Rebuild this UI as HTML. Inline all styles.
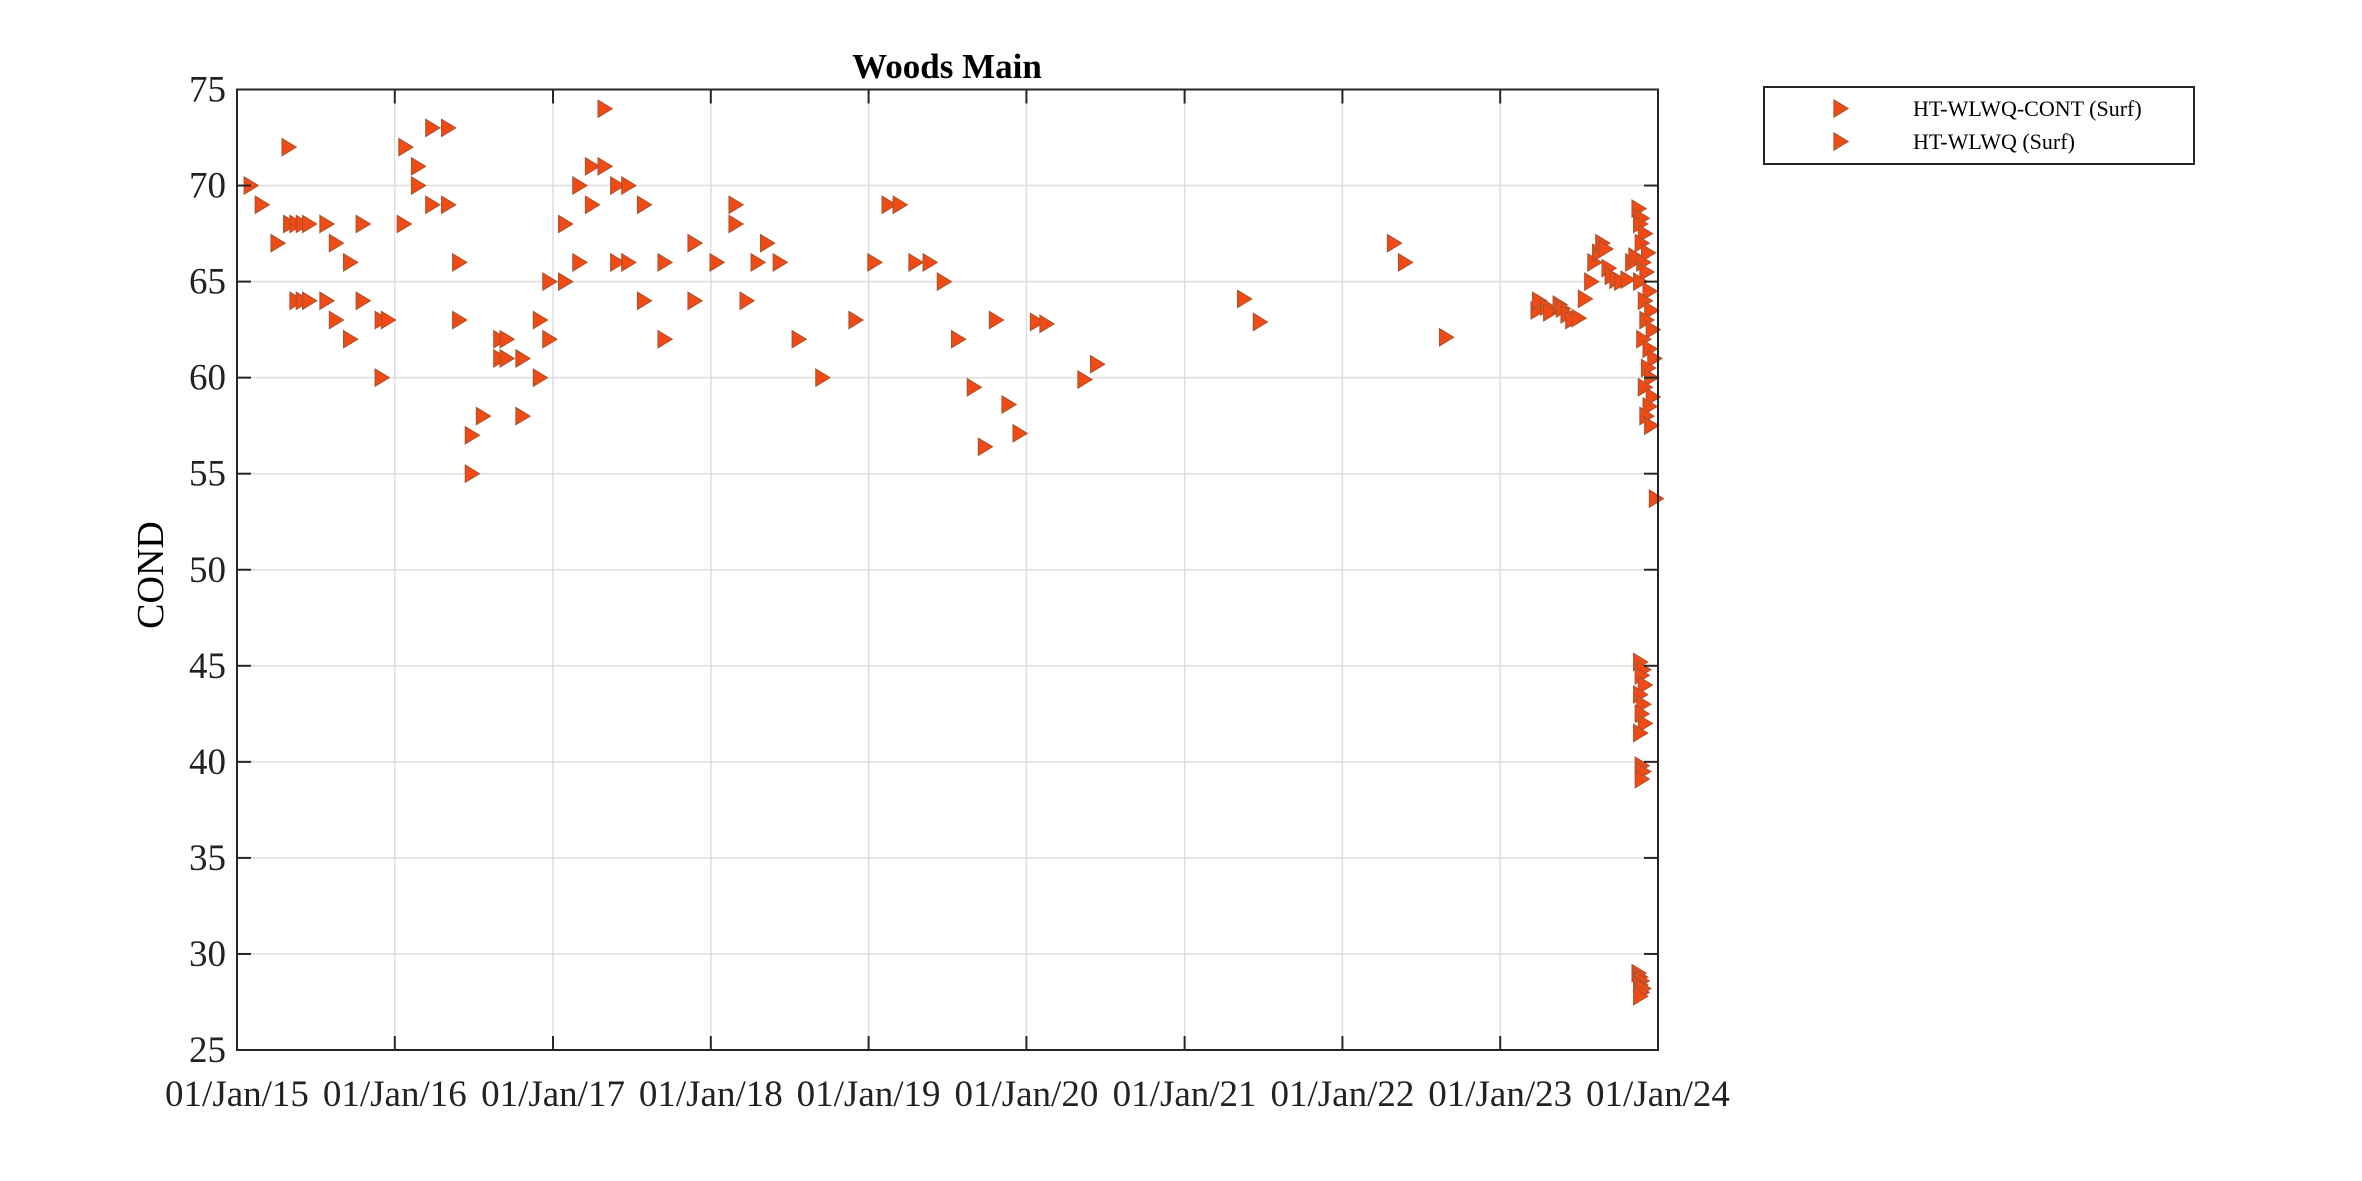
<!DOCTYPE html>
<html><head><meta charset="utf-8"><style>
html,body{margin:0;padding:0;background:#fff;}
svg{display:block;font-family:"Liberation Serif",serif;}
</style></head><body>
<svg id="chart" width="2362" height="1181" viewBox="0 0 2362 1181" xmlns="http://www.w3.org/2000/svg">
<rect width="2362" height="1181" fill="#fff"/>
<g id="grid"></g><g id="marks"></g><g id="axes"></g>
<text x="947" y="78" text-anchor="middle" font-size="35" font-weight="bold" fill="#000">Woods Main</text>
<text transform="translate(163,575) rotate(-90)" text-anchor="middle" font-size="38" fill="#000">COND</text>
<g>
<rect x="1764" y="87" width="430" height="77" fill="#fff" stroke="#262626" stroke-width="2"/>
<polygon points="1834,100 1848,108.5 1834,117" fill="#f24a14" stroke="#b0532c" stroke-width="1.2"/>
<text x="1913" y="116" font-size="22" fill="#000">HT-WLWQ-CONT (Surf)</text>
<polygon points="1834,133 1848,141.5 1834,150" fill="#f24a14" stroke="#b0532c" stroke-width="1.2"/>
<text x="1913" y="149" font-size="22" fill="#000">HT-WLWQ (Surf)</text>
</g>
</svg>
<script>
const xTickLabels = ["01/Jan/15","01/Jan/16","01/Jan/17","01/Jan/18","01/Jan/19","01/Jan/20","01/Jan/21","01/Jan/22","01/Jan/23","01/Jan/24"];
const xTickYears = [2015,2016,2017,2018,2019,2020,2021,2022,2023,2024];
const yTicks = [25,30,35,40,45,50,55,60,65,70,75];
const wlwqDates = [2015.09,2015.16,2015.26,2015.33,2015.34,2015.38,2015.42,2015.46,2015.38,2015.42,2015.46,2015.57,2015.57,2015.63,2015.63,2015.72,2015.72,2015.80,2015.80,2015.92,2015.96,2015.92,
2016.07,2016.06,2016.15,2016.15,2016.24,2016.34,2016.24,2016.34,2016.41,2016.41,2016.49,2016.49,2016.56,2016.67,2016.71,2016.67,2016.71,2016.81,2016.81,2016.92,2016.92,2016.98,2016.98,2017.08,2017.08,
2017.17,2017.17,2017.25,2017.33,2017.25,2017.33,2017.41,2017.48,2017.41,2017.48,2017.58,2017.58,2017.71,2017.71,2017.90,2017.90,2018.04,
2018.16,2018.16,2018.23,2018.30,2018.36,2018.44,2018.56,2018.71,2018.92,2019.04,
2019.13,2019.20,2019.30,2019.39,2019.48,2019.57,2019.67,2019.74,2019.81,2019.89,2019.96,
2020.07,2020.13,2020.37,2020.45,2021.38,2021.48,2022.33,2022.40,2022.66];
const wlwqVals = [70,69,67,72,68,68,68,68,64,64,64,68,64,67,63,66,62,68,64,63,63,60,
72,68,71,70,73,73,69,69,66,63,57,55,58,62,62,61,61,61,58,63,60,65,62,65,68,
70,66,71,71,69,74,70,70,66,66,69,64,66,62,67,64,66,
69,68,64,66,67,66,62,60,63,66,
69,69,66,66,65,62,59.5,56.4,63,58.6,57.1,
62.9,62.8,59.9,60.7,64.1,62.9,67,66,62.1];
const contDates = [2023.24,2023.25,2023.30,2023.32,2023.38,2023.40,2023.43,2023.46,2023.50,2023.54,2023.58,2023.60,2023.63,2023.65,2023.67,2023.69,2023.71,2023.74,2023.77,2023.81,2023.84,2023.86,
2023.88,2023.90,2023.89,2023.92,2023.90,2023.94,2023.91,2023.93,2023.89,2023.95,2023.92,2023.96,2023.93,2023.97,2023.91,2023.95,2023.98,2023.94,2023.96,2023.92,2023.97,2023.95,2023.93,2023.96,2023.99,
2023.89,2023.91,2023.90,2023.92,2023.89,2023.91,2023.90,2023.92,2023.89,2023.90,2023.91,2023.90,
2023.88,2023.89,2023.90,2023.89,2023.91,2023.90,2023.89];
const contVals = [63.5,64,63.7,63.4,63.8,63.6,63.3,63,63.1,64.1,65,66,66.5,67,66.7,65.7,65.3,65.1,65,65.1,66,66.3,
68.8,68.3,68,67.5,67,66.5,66,65.5,65,64.5,64,63.5,63,62.5,62,61.5,61,60.5,60,59.5,59,58.5,58,57.5,53.7,
45.2,44.8,44.5,44,43.5,43,42.5,42,41.5,39.8,39.5,39.1,
29.0,28.8,28.6,28.4,28.2,28,27.8];

const L=237,R=1658,T=89.5,B=1050;
const x0=Date.UTC(2015,0,1), x1=Date.UTC(2024,0,1);
function yearToMs(y){const yr=Math.floor(y);const a=Date.UTC(yr,0,1),b=Date.UTC(yr+1,0,1);return a+(y-yr)*(b-a);}
function xs(y){return L+(yearToMs(y)-x0)/(x1-x0)*(R-L);}
function ys(v){return B-(v-25)/(75-25)*(B-T);}
const NS="http://www.w3.org/2000/svg";
function mk(tag,attrs,parent){const e=document.createElementNS(NS,tag);for(const k in attrs)e.setAttribute(k,attrs[k]);parent.appendChild(e);return e;}
const grid=document.getElementById('grid'),axes=document.getElementById('axes'),marks=document.getElementById('marks');
xTickYears.forEach((yr,i)=>{
  const x=xs(yr);
  if(i>0&&i<xTickYears.length-1){const g=mk('line',{x1:x,x2:x,y1:T,y2:B,stroke:'#dedede','stroke-width':1.5},grid);
  
  }
  mk('line',{x1:x,x2:x,y1:B,y2:B-14,stroke:'#262626','stroke-width':2},axes);
  mk('line',{x1:x,x2:x,y1:T,y2:T+14,stroke:'#262626','stroke-width':2},axes);
  const t=mk('text',{x:x,y:1106,'text-anchor':'middle','font-size':37,fill:'#222'},axes);
  
  
  t.textContent=xTickLabels[i];
});
yTicks.forEach(v=>{
  const y=ys(v);
  if(v>25&&v<75){const g=mk('line',{x1:L,x2:R,y1:y,y2:y,stroke:'#dedede','stroke-width':1.5},grid);
  
  }
  mk('line',{x1:L,x2:L+14,y1:y,y2:y,stroke:'#262626','stroke-width':2},axes);
  mk('line',{x1:R,x2:R-14,y1:y,y2:y,stroke:'#262626','stroke-width':2},axes);
  const t=mk('text',{x:226,y:y+12,'text-anchor':'end','font-size':37,fill:'#222'},axes);
  
  
  t.textContent=v;
});
const box=mk('rect',{x:L,y:T,width:R-L,height:B-T,fill:'none',stroke:'#262626','stroke-width':2},axes);


function tri(x,y,name){
  const p=mk('polygon',{points:`${x-7},${y-8.5} ${x+7},${y} ${x-7},${y+8.5}`,fill:'#f24a14',stroke:'#b0532c','stroke-width':1.2},marks);
  
  
}
wlwqDates.forEach((d,i)=>tri(xs(d),ys(wlwqVals[i]),'wlwq-point'));
contDates.forEach((d,i)=>tri(xs(d),ys(contVals[i]),'cont-point'));
</script>
</body></html>
